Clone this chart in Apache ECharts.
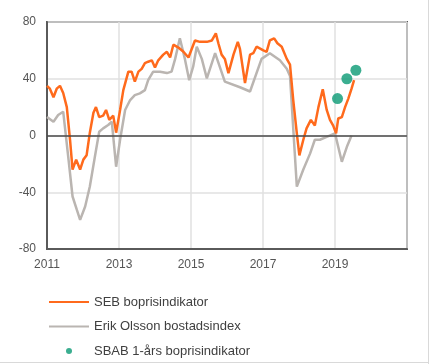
<!DOCTYPE html>
<html><head><meta charset="utf-8">
<script src="https://cdn.jsdelivr.net/npm/echarts@6/dist/echarts.min.js"></script>
<style>html,body{margin:0;padding:0;background:#fff;}#c{width:429px;height:364px;}</style>
</head><body><div id="c"></div>
<script>
// SEB boprisindikator (decimal year, value)
var sebT = [2011.00,2011.08,2011.18,2011.27,2011.36,2011.45,2011.55,2011.64,2011.71,2011.81,2011.92,2012.01,2012.10,2012.19,2012.29,2012.36,2012.45,2012.56,2012.64,2012.73,2012.84,2012.92,2013.03,2013.12,2013.26,2013.35,2013.44,2013.54,2013.63,2013.72,2013.81,2013.91,2014.00,2014.09,2014.23,2014.33,2014.42,2014.51,2014.65,2014.79,2014.93,2015.11,2015.25,2015.44,2015.58,2015.69,2015.76,2015.85,2015.94,2016.04,2016.18,2016.30,2016.36,2016.50,2016.64,2016.73,2016.82,2017.01,2017.10,2017.19,2017.31,2017.40,2017.52,2017.66,2017.75,2017.84,2017.94,2018.01,2018.12,2018.21,2018.33,2018.44,2018.54,2018.66,2018.77,2018.86,2018.95,2019.03,2019.09,2019.19,2019.28,2019.37,2019.46,2019.53];
var sebV = [35,33,27,33,35,30,20,-3,-24,-17,-24,-17,-14,2,16,20,13,14,18,11,14,2,18,32,45,45,38,45,47,51,52,53,48,53,57,59,55,64,62,59,55,67,66,66,67,72,65,57,54,44,57,66,61,37,57,58,62.6,60,59,67,68.5,65,62.6,54,50,25,1.5,-14,-3,5,11,7,20,32.6,18,11,7,1.5,12,13,20,26,33,39];
// Erik Olsson bostadsindex
var eoT = [2011.00,2011.18,2011.31,2011.45,2011.59,2011.71,2011.83,2011.92,2012.06,2012.19,2012.33,2012.45,2012.56,2012.70,2012.80,2012.92,2013.03,2013.17,2013.31,2013.44,2013.58,2013.72,2013.81,2013.95,2014.14,2014.33,2014.46,2014.56,2014.69,2014.83,2014.95,2015.06,2015.16,2015.30,2015.44,2015.67,2015.94,2016.36,2016.64,2016.96,2017.19,2017.47,2017.66,2017.75,2017.94,2018.12,2018.31,2018.44,2018.58,2018.77,2019.00,2019.19,2019.33,2019.46];
var eoV = [13,9.7,14.4,16.8,-15,-43,-52.5,-59.5,-50,-36,-15,2.7,5,7.4,9.7,-22,-3,18,25,28.5,29.7,32,39,45,45,44,45,54,68.5,54,39,48.5,62.6,54,40.3,58,38,34,31,54,58,53,47,42,-36,-24,-12.6,-3,-3,-1,1.5,-18.5,-8,0];
// SBAB 1-års boprisindikator
var sbabT = [2019.07,2019.33,2019.58];
var sbabV = [26,40,46];
// axis ticks
var xTicks = [2011,2013,2015,2017,2019];
var yTicks = [-80,-40,0,40,80];

function pairs(t,v){return t.map(function(x,i){return [x,v[i]];});}

var chart = echarts.init(document.getElementById('c'), null, {renderer:'canvas'});
chart.setOption({
  animation:false,
  backgroundColor:'#fff',
  textStyle:{fontFamily:'Liberation Sans, Arial, sans-serif'},
  grid:{left:47,right:22,top:22,bottom:115,show:true,borderColor:'#5a5a5a',borderWidth:2,backgroundColor:'transparent'},
  xAxis:{type:'value',min:2011,max:2021,interval:2,
    axisLine:{show:true,onZero:false,lineStyle:{color:'#5a5a5a',width:2}},
    axisTick:{show:false},
    axisLabel:{color:'#555',fontSize:12,margin:10,
      formatter:function(v){return xTicks.indexOf(v)>=0?String(v):'';}},
    splitLine:{show:true,lineStyle:{color:'#e0e0e0',width:1.5}}},
  yAxis:{type:'value',min:-80,max:80,interval:40,
    axisLine:{show:true,lineStyle:{color:'#5a5a5a',width:2}},
    axisTick:{show:false},
    axisLabel:{color:'#555',fontSize:12,margin:11,
      formatter:function(v){return yTicks.indexOf(v)>=0?String(v):'';}},
    splitLine:{show:true,lineStyle:{color:'#e0e0e0',width:1.5}}},
  legend:{orient:'vertical',left:48,top:295,padding:0,height:120,itemWidth:40,itemHeight:6,itemGap:10.5,
    textStyle:{color:'#404040',fontSize:13,lineHeight:14},
    data:[
      {name:'SEB boprisindikator',itemStyle:{opacity:0}},
      {name:'Erik Olsson bostadsindex',itemStyle:{opacity:0}},
      {name:'SBAB 1-års boprisindikator'}]},
  series:[
    {name:'Erik Olsson bostadsindex',type:'line',z:2,symbol:'none',data:pairs(eoT,eoV),
      lineStyle:{color:'#bab5b1',width:2.5},itemStyle:{color:'#bab5b1'},
      markLine:{silent:true,symbol:'none',label:{show:false},
        lineStyle:{color:'#4a4a4a',width:1.5,type:'solid'},data:[{yAxis:0}]}},
    {name:'SEB boprisindikator',type:'line',z:3,symbol:'none',data:pairs(sebT,sebV),
      lineStyle:{color:'#ff6a1c',width:2.5},itemStyle:{color:'#ff6a1c'}},
    {name:'SBAB 1-års boprisindikator',type:'scatter',z:4,symbol:'circle',symbolSize:11,
      data:pairs(sbabT,sbabV),itemStyle:{color:'#0a9a74'}}
  ],
  graphic:[
    {type:'line',shape:{x1:428.5,y1:0,x2:428.5,y2:364},style:{stroke:'#d9d9d9',lineWidth:1}},
    {type:'line',shape:{x1:0,y1:362.5,x2:429,y2:362.5},style:{stroke:'#d9d9d9',lineWidth:1}}
  ]
});
</script></body></html>
